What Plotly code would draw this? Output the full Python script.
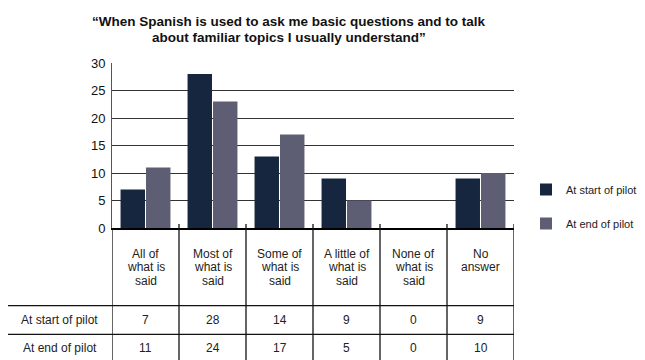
import plotly.graph_objects as go

categories = ["All of<br>what is<br>said", "Most of<br>what is<br>said", "Some of<br>what is<br>said",
              "A little of<br>what is<br>said", "None of<br>what is<br>said", "No<br>answer"]
series_names = ["At start of pilot", "At end of pilot"]
bars_start = [7, 28, 13, 9, 0, 9]
bars_end = [11, 23, 17, 5, 0, 10]
table_start = [7, 28, 14, 9, 0, 9]
table_end = [11, 24, 17, 5, 0, 10]
y_ticks = [0, 5, 10, 15, 20, 25, 30]
title_lines = ["“When Spanish is used to ask me basic questions and to talk",
               "about familiar topics I usually understand”"]

C_START = "#17263F"
C_END = "#5D5E74"
FONT = "Liberation Sans"

OFF = 8  # page body margin
W, H = 645 - OFF, 360 - OFF
X0, X1, Y0, Y1 = 112, 514, 63, 228
L, T = X0 - OFF, Y0 - OFF
PW, PH = X1 - X0, Y1 - Y0
R, B = W - L - PW, H - T - PH

def py(px):
    return (Y1 - px) / PH

def pxx(px):
    return (px - X0) / PW

x_idx = list(range(len(categories)))

fig = go.Figure()
fig.add_trace(go.Bar(x=x_idx, y=bars_start, name=series_names[0], marker_color=C_START,
                     marker_line_width=0, legendgroup="a"))
fig.add_trace(go.Bar(x=x_idx, y=bars_end, name=series_names[1], marker_color=C_END,
                     marker_line_width=0, legendgroup="b"))

LC = dict(color="#111", width=1.3)
shapes = []
n = len(categories)
for i in range(n + 1):
    top = 228 if i == 0 else 224
    shapes.append(dict(type="line", xref="x", yref="paper", x0=i - 0.5, x1=i - 0.5,
                       y0=py(top), y1=py(372), line=LC))
shapes.append(dict(type="line", xref="paper", yref="paper", x0=pxx(7.3), x1=pxx(7.3),
                   y0=py(305.7), y1=py(372), line=LC))
for yy in [305.7, 334.3]:
    shapes.append(dict(type="line", xref="paper", yref="paper", x0=pxx(7.3), x1=1,
                       y0=py(yy), y1=py(yy), line=LC))

TF = dict(size=12, color="#222", family=FONT)
annotations = []
for i, c in enumerate(categories):
    for j, line in enumerate(c.split("<br>")):
        annotations.append(dict(x=i, y=py(253.5 + 13.5 * j), xref="x", yref="paper", text=line,
                                showarrow=False, font=TF, yanchor="middle", xanchor="center"))
    annotations.append(dict(x=i, y=py(320), xref="x", yref="paper", text=str(table_start[i]),
                            showarrow=False, font=TF, xanchor="center", yanchor="middle"))
    annotations.append(dict(x=i, y=py(348), xref="x", yref="paper", text=str(table_end[i]),
                            showarrow=False, font=TF, xanchor="center", yanchor="middle"))
annotations.append(dict(x=pxx(59.5), y=py(320), xref="paper", yref="paper", text=series_names[0],
                        showarrow=False, font=TF, xanchor="center", yanchor="middle"))
annotations.append(dict(x=pxx(59.5), y=py(348), xref="paper", yref="paper", text=series_names[1],
                        showarrow=False, font=TF, xanchor="center", yanchor="middle"))
# title (two lines, tight leading)
for j, line in enumerate(title_lines):
    annotations.append(dict(x=pxx(289), y=py(21.5 + 16 * j), xref="paper", yref="paper", text=line,
                            showarrow=False, xanchor="center", yanchor="middle",
                            font=dict(size=13.5, color="#111", family=FONT, weight="bold")))

fig.update_layout(
    width=W, height=H,
    margin=dict(l=L, r=R, t=T, b=B, autoexpand=False),
    paper_bgcolor="white", plot_bgcolor="white",
    barmode="group", bargap=0.24, bargroupgap=0.04,
    font=dict(family=FONT, color="#222"),
    xaxis=dict(range=[-0.5, n - 0.5], showticklabels=False, ticks="", showgrid=False,
               showline=True, linecolor="#000", linewidth=1.5, zeroline=False, fixedrange=True),
    yaxis=dict(range=[0, 30], tickvals=y_ticks, showgrid=True, gridcolor="#333", gridwidth=1,
               showline=True, linecolor="#555", linewidth=1, zeroline=False, ticks="",
               ticklabelstandoff=3,
               tickfont=dict(size=13, color="#111", family=FONT)),
    legend=dict(x=pxx(526), y=py(206.5), xanchor="left", yanchor="middle", xref="paper", yref="paper",
                font=dict(size=11, color="#222", family=FONT), tracegroupgap=15,
                bgcolor="rgba(0,0,0,0)", itemwidth=30),
    shapes=shapes, annotations=annotations,
)
fig.write_html("out.html")
